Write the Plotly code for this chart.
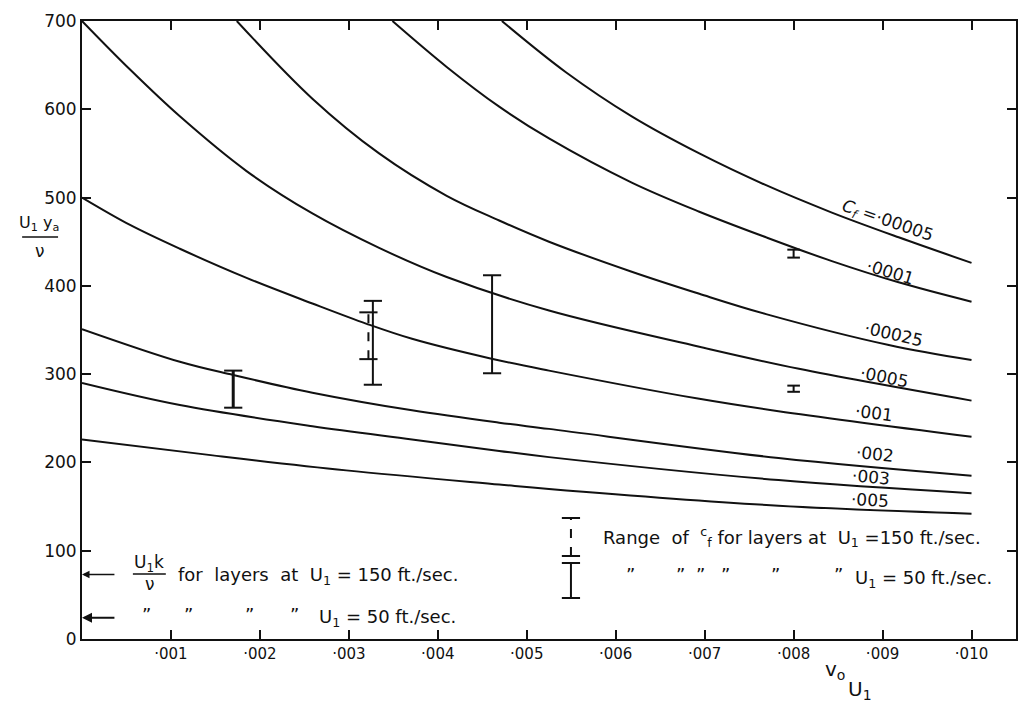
import plotly.graph_objects as go

# ---------------- data (x in thousandths of v0/U1) ----------------
cf_labels = ["·00005", "·0001", "·00025", "·0005", "·001", "·002", "·003", "·005"]

x_cf00005 = [4.72, 5.44, 6.18, 6.94, 7.69, 8.43, 9.18, 10.0]
y_cf00005 = [700, 642, 592, 550, 514, 483, 455, 426]

x_cf0001 = [3.49, 4.10, 4.69, 5.25, 6.18, 6.94, 7.69, 8.43, 9.18, 10.0]
y_cf0001 = [700, 648, 603, 567, 517, 484, 455, 428, 404, 382]

x_cf00025 = [1.74, 2.59, 3.34, 4.10, 4.69, 5.25, 6.18, 6.94, 7.69, 9.07, 10.0]
y_cf00025 = [700, 612, 550, 502, 474, 450, 416, 391, 368, 333, 316]

x_cf0005 = [0, 0.54, 1.10, 1.85, 2.59, 3.34, 4.10, 5.25, 6.94, 8.06, 10.0]
y_cf0005 = [700, 645, 592, 530, 482, 443, 410, 372, 331, 306, 270]

x_cf001 = [0, 0.54, 1.10, 1.85, 2.59, 3.20, 3.71, 4.58, 5.25, 6.94, 7.83, 10.0]
y_cf001 = [500, 469, 442, 409, 380, 357, 340, 318, 304, 272, 258, 229]

x_cf002 = [0, 1.10, 1.70, 2.59, 3.71, 4.69, 5.25, 7.83, 10.0]
y_cf002 = [351, 314, 299, 279, 259, 245, 238, 205, 185]

x_cf003 = [0, 1.10, 2.59, 3.71, 4.69, 5.25, 7.83, 10.0]
y_cf003 = [290, 265, 241, 226, 213, 206, 180, 165]

x_cf005 = [0, 1.47, 2.97, 4.69, 5.25, 7.83, 10.0]
y_cf005 = [226, 208, 191, 175, 170, 151, 142]

# ranges of c_f (error-bar like ranges)
bar_x = [1.70, 3.22, 3.27, 4.61, 8.00, 8.00]
bar_lo = [262, 317, 288, 301, 432, 280]
bar_hi = [304, 370, 383, 412, 441, 287]
bar_u1 = [50, 150, 50, 50, 50, 50]

# U1 k / nu markers on the y axis
ukn_values = [73, 24]
ukn_u1 = [150, 50]

x_tickvals = [1, 2, 3, 4, 5, 6, 7, 8, 9, 10]
x_ticktext = ["·001", "·002", "·003", "·004", "·005", "·006", "·007", "·008", "·009", "·010"]
y_tickvals = [0, 100, 200, 300, 400, 500, 600, 700]

# ---------------- geometry helpers ----------------
W, H = 1019, 708
ML, MR, MT, MB = 82, 1, 21, 69
XMAX, YMAX = 10.5, 700
PW, PH = W - ML - MR, H - MT - MB


def X(px):
    return (px - ML) / PW * XMAX


def Y(py):
    return (H - MB - py) / PH * YMAX


def PX(px):
    return (px - ML) / PW


def PY(py):
    return (H - MB - py) / PH


INK = "#111111"
FONT = "DejaVu Sans"
NB = "\u00a0"

fig = go.Figure()

curves = [
    (x_cf00005, y_cf00005), (x_cf0001, y_cf0001), (x_cf00025, y_cf00025),
    (x_cf0005, y_cf0005), (x_cf001, y_cf001), (x_cf002, y_cf002),
    (x_cf003, y_cf003), (x_cf005, y_cf005),
]
for (xs, ys), lab in zip(curves, cf_labels):
    fig.add_trace(go.Scatter(x=xs, y=ys, mode="lines", name=lab,
                             line=dict(color=INK, width=2, shape="spline", smoothing=1.0),
                             showlegend=False, hoverinfo="skip"))

for bx, lo, hi, u in zip(bar_x, bar_lo, bar_hi, bar_u1):
    big = (hi - lo) > 20
    fig.add_trace(go.Scatter(
        x=[bx, bx], y=[lo, hi], mode="lines+markers",
        line=dict(color=INK, width=3 if bx < 2 else 2, dash="dash" if u == 150 else "solid"),
        marker=dict(symbol="line-ew", size=13 if big else 9,
                    line=dict(color=INK, width=2)),
        showlegend=False, hoverinfo="skip"))

# legend symbols (right legend)
fig.add_trace(go.Scatter(
    x=[X(572), X(572)], y=[Y(556), Y(518)], mode="lines+markers",
    line=dict(color=INK, width=2, dash="dash"),
    marker=dict(symbol="line-ew", size=13, line=dict(color=INK, width=2)),
    showlegend=False, hoverinfo="skip"))
fig.add_trace(go.Scatter(
    x=[X(572), X(572)], y=[Y(598), Y(563)], mode="lines+markers",
    line=dict(color=INK, width=2),
    marker=dict(symbol="line-ew", size=13, line=dict(color=INK, width=2)),
    showlegend=False, hoverinfo="skip"))


def txt(px, py, text, size=18, xa="center", ya="middle", angle=0):
    fig.add_annotation(xref="paper", yref="paper", x=PX(px), y=PY(py), text=text,
                       showarrow=False, xanchor=xa, yanchor=ya, textangle=angle,
                       font=dict(family=FONT, size=size, color=INK))


# curve labels
label_pos = [  # (px, py, angle)
    (889, 221, 19), (892, 272, 17), (895, 334, 13), (886, 377, 11),
    (876, 413, 7), (877, 454, 6), (873, 477, 5), (872, 500, 3),
]
for lab, (px, py, ang) in zip(cf_labels, label_pos):
    t = ("<i>C<sub>f</sub></i> =" + lab) if lab == cf_labels[0] else lab
    txt(px, py, t, size=17, angle=ang)

# arrows to the y axis for U1 k / nu
for v, u in zip(ukn_values, ukn_u1):
    fig.add_annotation(x=0, y=v, ax=X(116), ay=v, axref="x", ayref="y",
                       xref="x", yref="y", text="", showarrow=True,
                       arrowhead=2, arrowsize=1, arrowwidth=2 if u == 50 else 1.5,
                       arrowcolor=INK)

# left legend text
txt(149, 563, "U<sub>1</sub>k", size=17)
txt(150, 584, "ν", size=17)
fig.add_shape(type="line", xref="paper", yref="paper", x0=PX(133), x1=PX(166),
              y0=PY(574), y1=PY(574), line=dict(color=INK, width=1.5))
txt(176, 576, "for" + NB * 2 + "layers" + NB * 2 + "at" + NB * 2 + "U<sub>1</sub>" + NB + "=" + NB + "150 ft./sec.",
    xa="left")
for px in [147, 189, 250, 295]:
    txt(px, 614, "”", size=18)
txt(318, 618, "U<sub>1</sub>" + NB + "=" + NB + "50 ft./sec.", xa="left")

# right legend text
txt(602, 537, "Range" + NB * 2 + "of" + NB * 2 + "<sup>c</sup><sub>f</sub>" + NB + "for" + NB + "layers" + NB + "at" + NB * 2
    + "U<sub>1</sub>" + NB + "=150 ft./sec.", xa="left")
for px in [632, 682, 702, 727, 777, 840]:
    txt(px, 574, "”", size=18)
txt(855, 579, "U<sub>1</sub>" + NB + "=" + NB + "50 ft./sec.", xa="left")

# y axis title (fraction)
txt(39, 223, "U<sub>1</sub> y<sub>a</sub>", size=16)
fig.add_shape(type="line", xref="paper", yref="paper", x0=PX(22), x1=PX(58),
              y0=PY(237), y1=PY(237), line=dict(color=INK, width=1.5))
txt(40, 251, "ν", size=17)

# x axis title
txt(837, 670, "v<sub>o</sub>", size=20)
txt(862, 690, "U<sub>1</sub>", size=20)

axis_common = dict(showgrid=False, zeroline=False, showline=True, linecolor=INK,
                   linewidth=2, mirror="ticks", ticks="inside", ticklen=9,
                   tickwidth=2, tickcolor=INK)

fig.update_layout(
    width=W, height=H,
    margin=dict(l=ML, r=MR, t=MT, b=MB, pad=0),
    paper_bgcolor="white", plot_bgcolor="white",
    showlegend=False,
    xaxis=dict(range=[0, XMAX], tickvals=x_tickvals, ticktext=x_ticktext,
               tickfont=dict(family=FONT, size=15, color=INK), **axis_common),
    yaxis=dict(range=[0, YMAX], tickvals=y_tickvals,
               tickfont=dict(family=FONT, size=17, color=INK), **axis_common),
)

fig.write_html("out.html")
